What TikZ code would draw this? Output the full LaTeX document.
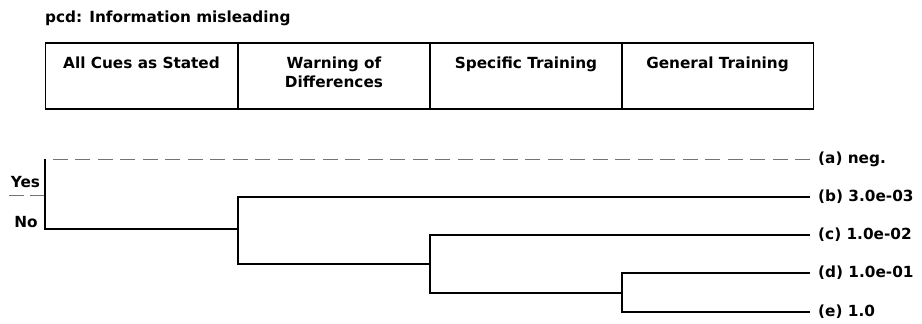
\documentclass[tikz,border=0pt]{standalone}
\usepackage{fontspec}
\setmainfont{DejaVu Sans}
\begin{document}
\begin{tikzpicture}[x=1pt,y=-1pt,
  txt/.style={font=\bfseries\fontsize{15.3}{19}\selectfont, inner sep=0pt},
  cell/.style={draw=black, line width=1.2pt, minimum width=192pt, minimum height=66pt, inner sep=0pt},
  celltext/.style={txt, anchor=north, align=center},
  leaf/.style={txt, anchor=west, inner xsep=8pt, inner ysep=0pt},
  branch/.style={draw=black, line width=1.4pt},
  nobranch/.style={draw=black!55, line width=1pt, dash pattern=on 15pt off 7.5pt},
  sepline/.style={draw=black!55, line width=1pt, dash pattern=on 15pt off 6pt}]
\useasboundingbox (0,0) rectangle (922,324);

% title
\node[txt, anchor=base west] (title) at (45,23) {pcd: Information misleading};

% table
\node[cell] (c1) at (141.5,76) {};
\node[cell] (c2) at (334,76) {};
\node[cell] (c3) at (526,76) {};
\node[cell] (c4) at (717.5,76) {};
\node[celltext] (t1) at (141.5,56.5) {All Cues as Stated};
\node[celltext] (t2) at (334,56.5) {Warning of\\Differences};
\node[celltext] (t3) at (526,56.5) {Specific Training};
\node[celltext] (t4) at (717.5,56.5) {General Training};

% Yes / No
\node[txt, anchor=base] (yes) at (25.5,187) {Yes};
\node[txt, anchor=base] (no) at (26,227) {No};
\coordinate (sepL) at (7,195);

% junctions
\coordinate (J0) at (45,195);
\coordinate (J1) at (238,229);
\coordinate (J2) at (430,264);
\coordinate (J3) at (622,293);

% leaves
\node[leaf] (la) at (810,159) {(a) neg.};
\node[leaf] (lb) at (810,197) {(b) 3.0e-03};
\node[leaf] (lc) at (810,235) {(c) 1.0e-02};
\node[leaf] (ld) at (810,273) {(d) 1.0e-01};
\node[leaf] (le) at (810,312) {(e) 1.0};

% connectors
\draw[sepline] (J0) -- (sepL);
\draw[nobranch] (la.west) -- (J0 |- la.west);
\draw[branch] (J0 |- la.west) -- (J0 |- J1) -- (J1);
\draw[branch] (lb.west) -| (J1 |- J2) -- (J2);
\draw[branch] (lc.west) -| (J2 |- J3) -- (J3);
\draw[branch] (ld.west) -| (J3 |- le.west) -- (le.west);
\end{tikzpicture}
\end{document}
